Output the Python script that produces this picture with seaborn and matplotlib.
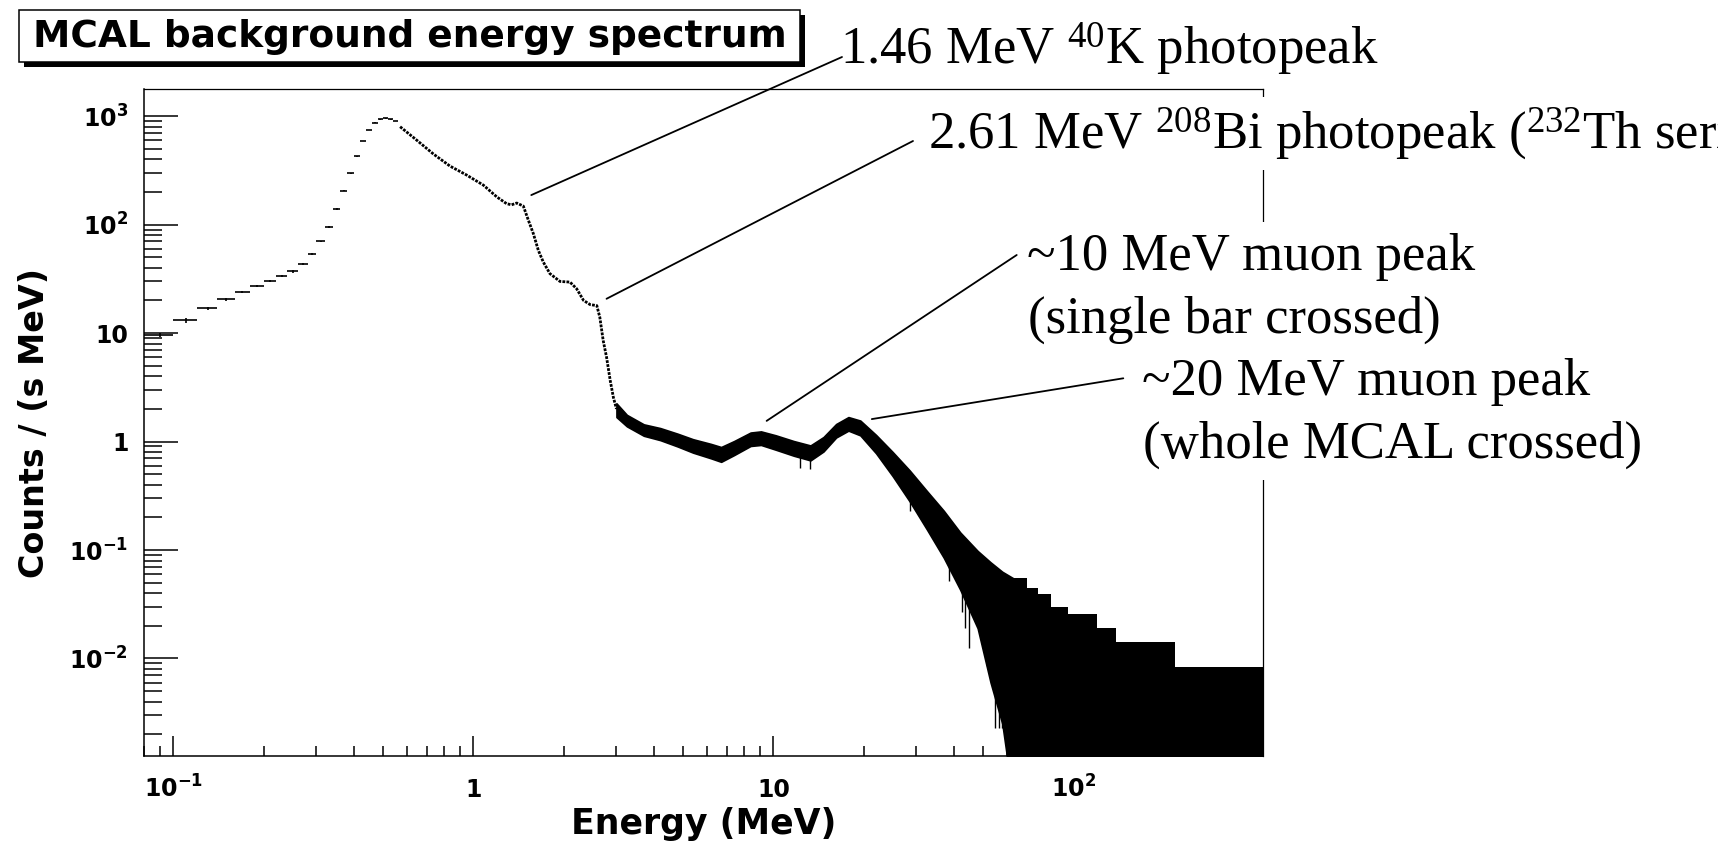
import matplotlib
matplotlib.use("Agg")
import matplotlib.pyplot as plt
import seaborn as sns
from matplotlib.patches import Rectangle, ConnectionPatch
from matplotlib.ticker import FixedLocator, FixedFormatter, LogLocator, NullFormatter

# ---------------- values ----------------
# wide low-energy bins: centre (MeV), rate counts/(s MeV), vertical error
low_energy = [0.09, 0.11, 0.13, 0.15, 0.17, 0.19, 0.21, 0.23, 0.25, 0.27, 0.29, 0.31,
              0.33, 0.35, 0.37, 0.39, 0.41, 0.43, 0.45, 0.47, 0.49, 0.51, 0.53, 0.55]
low_rate = [9.6, 13.1, 16.9, 20.4, 23.9, 27.0, 30.1, 33.5, 37.0, 43.5, 53.2, 70.0,
            95.5, 139, 205, 296, 428, 589, 745, 869, 936, 955, 935, 901]
low_rate_err = [0.5, 0.6, 0.6, 0.7, 0.7, 0.7, 0.8, 0.8, 0.9, 1.0, 1.1, 1.3,
                1.6, 2.0, 2.5, 3.0, 4.0, 4.5, 5.0, 5.5, 6.0, 6.0, 6.0, 6.0]
bin_half_width = 0.01

# dense part of the spectrum (0.57 - 3 MeV)
curve_energy = [0.57, 0.647, 0.736, 0.836, 0.95, 1.08, 1.197, 1.29, 1.34, 1.395, 1.468,
                1.525, 1.585, 1.647, 1.711, 1.8, 1.945, 2.1, 2.21, 2.33, 2.45, 2.58,
                2.64, 2.71, 2.78, 2.86, 2.93, 3.0]
curve_rate = [798, 601, 447, 346, 286, 231, 180, 156, 152, 158, 148,
              110, 82.5, 57.8, 45.1, 35.3, 29.9, 29.5, 25.6, 20.0, 18.3, 17.9,
              14.0, 8.5, 6.0, 3.64, 2.55, 2.0]

# noisy muon region: lower and upper edge of the black band
band_energy = [3.0, 3.25, 3.7, 4.2, 4.8, 5.4, 6.2, 6.7, 7.4, 8.4, 9.1, 10.2, 11.7, 13.3,
               14.7, 16.2, 17.8, 19.5, 22.0, 25.0, 28.5, 32.5, 37.0, 42.0, 48.0, 53.0,
               58.0, 63.0]
band_low = [1.68, 1.38, 1.13, 1.03, 0.90, 0.79, 0.70, 0.65, 0.75, 0.91, 0.93, 0.84, 0.74,
            0.67, 0.81, 1.09, 1.26, 1.14, 0.78, 0.48, 0.28, 0.155, 0.085, 0.043, 0.019,
            0.006, 0.0025, 0.0005]
band_high = [2.25, 1.76, 1.44, 1.33, 1.18, 1.05, 0.95, 0.89, 1.01, 1.21, 1.24, 1.14, 1.01,
             0.92, 1.10, 1.45, 1.68, 1.56, 1.15, 0.80, 0.54, 0.35, 0.23, 0.145, 0.098,
             0.077, 0.063, 0.055]

# sparse tail: upper ends of the error bars (lower ends run below the axis)
tail_energy = [63, 70, 76, 84, 96, 120, 139, 218, 428]
tail_top = [0.055, 0.045, 0.039, 0.030, 0.0255, 0.0193, 0.0143, 0.0083, 0.0083]
tail_floor = 1e-4

# isolated downward fluctuations
spike_energy = [12.3, 13.3, 28.5, 38.5, 42.5, 43.5, 45.0, 51.5, 52.5, 55.0, 56.5, 58.0, 60.0]
spike_low = [0.57, 0.56, 0.23, 0.052, 0.027, 0.019, 0.0124, 0.0085, 0.0085, 0.0023,
             0.0023, 0.0023, 0.0017]
spike_high = [0.75, 0.70, 0.35, 0.10, 0.06, 0.06, 0.05, 0.02, 0.02, 0.006, 0.005, 0.004, 0.003]

# annotated features (where the pointer lines end)
peak_energy = [1.56, 2.78, 9.5, 21.3]
peak_rate = [187, 20.7, 1.55, 1.61]

x_tick_values = [0.1, 1, 10, 100]
x_tick_labels = [r"$10^{-1}$", "1", "10", r"$10^{2}$"]
y_tick_values = [1e-2, 1e-1, 1, 10, 100, 1000]
y_tick_labels = [r"$10^{-2}$", r"$10^{-1}$", "1", "10", r"$10^{2}$", r"$10^{3}$"]
x_range = (0.08, 428)
y_range = (1.27e-3, 1766)

title_text = "MCAL background energy spectrum"
x_title = "Energy (MeV)"
y_title = "Counts / (s MeV)"
note_texts = [
    "1.46 MeV $^{40}$K photopeak",
    "2.61 MeV $^{208}$Bi photopeak ($^{232}$Th series)",
    "~10 MeV muon peak",
    "(single bar crossed)",
    "~20 MeV muon peak",
    "(whole MCAL crossed)",
]

# ---------------- drawing ----------------
sns.set_style("ticks")
plt.rcParams["font.family"] = ["DejaVu Sans"]
plt.rcParams["font.weight"] = "bold"
plt.rcParams["mathtext.default"] = "regular"

W, H = 1718, 844
fig = plt.figure(figsize=(W / 100, H / 100), dpi=100)
fig.patch.set_facecolor("white")


def fx(px):
    return px / W


def fy(py):
    return 1 - py / H


ax = fig.add_axes([fx(144.3), fy(755.7), fx(1262.7) - fx(144.3), fy(89.3) - fy(755.7)])
ax.set_xscale("log")
ax.set_yscale("log")
ax.set_facecolor("white")

ax.fill_between(tail_energy, tail_floor, tail_top, step="post", color="black", lw=0)
ax.fill_between(band_energy, band_low, band_high, facecolor="black", edgecolor="black", lw=1.2)
ax.vlines(spike_energy, spike_low, spike_high, colors="black", lw=1.0)
sns.lineplot(x=curve_energy, y=curve_rate, ax=ax, color="black", lw=2.0, sort=False,
             linestyle=(0, (1.0, 0.45)))
ax.errorbar(low_energy, low_rate, xerr=bin_half_width, yerr=low_rate_err, fmt="none",
            ecolor="black", elinewidth=1.2, capsize=0)

ax.set_xlim(*x_range)
ax.set_ylim(*y_range)
ax.set_xlabel("")
ax.set_ylabel("")

for name, s in ax.spines.items():
    s.set_visible(True)
    s.set_color("black")
    s.set_linewidth(1.1 if name in ("left", "bottom") else 0.9)

ax.xaxis.set_major_locator(FixedLocator(x_tick_values))
ax.xaxis.set_major_formatter(FixedFormatter(x_tick_labels))
ax.yaxis.set_major_locator(FixedLocator(y_tick_values))
ax.yaxis.set_major_formatter(FixedFormatter(y_tick_labels))
minor_subs = (2, 3, 4, 5, 6, 7, 8, 9)
ax.xaxis.set_minor_locator(LogLocator(base=10, subs=minor_subs, numticks=60))
ax.yaxis.set_minor_locator(LogLocator(base=10, subs=minor_subs, numticks=60))
ax.xaxis.set_minor_formatter(NullFormatter())
ax.yaxis.set_minor_formatter(NullFormatter())

ax.tick_params(axis="both", which="both", direction="in", top=False, right=False,
               width=1.1, color="black", labelcolor="black", labelsize=17)
ax.tick_params(axis="x", which="major", length=14.4, pad=30)
ax.tick_params(axis="x", which="minor", length=7.2)
ax.tick_params(axis="y", which="major", length=24.5, pad=11.5)
ax.tick_params(axis="y", which="minor", length=13)
for t in ax.xaxis.get_major_ticks():
    t.label1.set_verticalalignment("baseline")
for lab in ax.get_xticklabels() + ax.get_yticklabels():
    lab.set_fontweight("bold")

# axis titles
fig.text(fx(703.5), fy(834), x_title, ha="center", va="baseline", fontsize=25,
         fontweight="bold", color="black")
fig.text(fx(35), fy(423.5), y_title, rotation=90, ha="center", va="center", fontsize=24,
         fontweight="bold", color="black")

# title pave with shadow
fig.add_artist(Rectangle((fx(24), fy(67)), fx(805) - fx(24), fy(15) - fy(67),
                         transform=fig.transFigure, facecolor="black", edgecolor="none",
                         zorder=2))
fig.add_artist(Rectangle((fx(19), fy(62)), fx(800) - fx(19), fy(10) - fy(62),
                         transform=fig.transFigure, facecolor="white", edgecolor="black",
                         lw=1.1, zorder=2.1))
fig.text(fx(409.5), fy(47), title_text, ha="center", va="baseline", fontsize=27,
         fontweight="bold", color="black", zorder=3)

# annotation texts (serif, with white boxes that hide the frame behind them)
note_pos = [(840, 65), (928, 148), (1027, 270), (1028, 333), (1142, 395), (1143, 458)]
note_boxed = [False, True, True, True, True, True]
note_pad = [0.0, 0.15, 0.2, 0.2, 0.2, 0.2]
for txt, (px, py), boxed, pad in zip(note_texts, note_pos, note_boxed, note_pad):
    kw = dict(ha="left", va="baseline", fontsize=38, family=["Liberation Serif", "DejaVu Serif"],
              fontweight="normal", color="black", zorder=4)
    if boxed:
        kw["bbox"] = dict(boxstyle=f"square,pad={pad}", facecolor="white", edgecolor="none")
    fig.text(fx(px), fy(py), txt, **kw)

# pointer lines from the texts to the features
line_start = [(842, 57), (913, 141), (1016.7, 255), (1123.3, 378.3)]
for (px, py), e, r in zip(line_start, peak_energy, peak_rate):
    con = ConnectionPatch(xyA=(fx(px), fy(py)), coordsA=fig.transFigure,
                          xyB=(e, r), coordsB=ax.transData, color="black", lw=1.3)
    con.set_zorder(6)
    fig.add_artist(con)

fig.savefig("out.png", dpi=100, facecolor="white")
